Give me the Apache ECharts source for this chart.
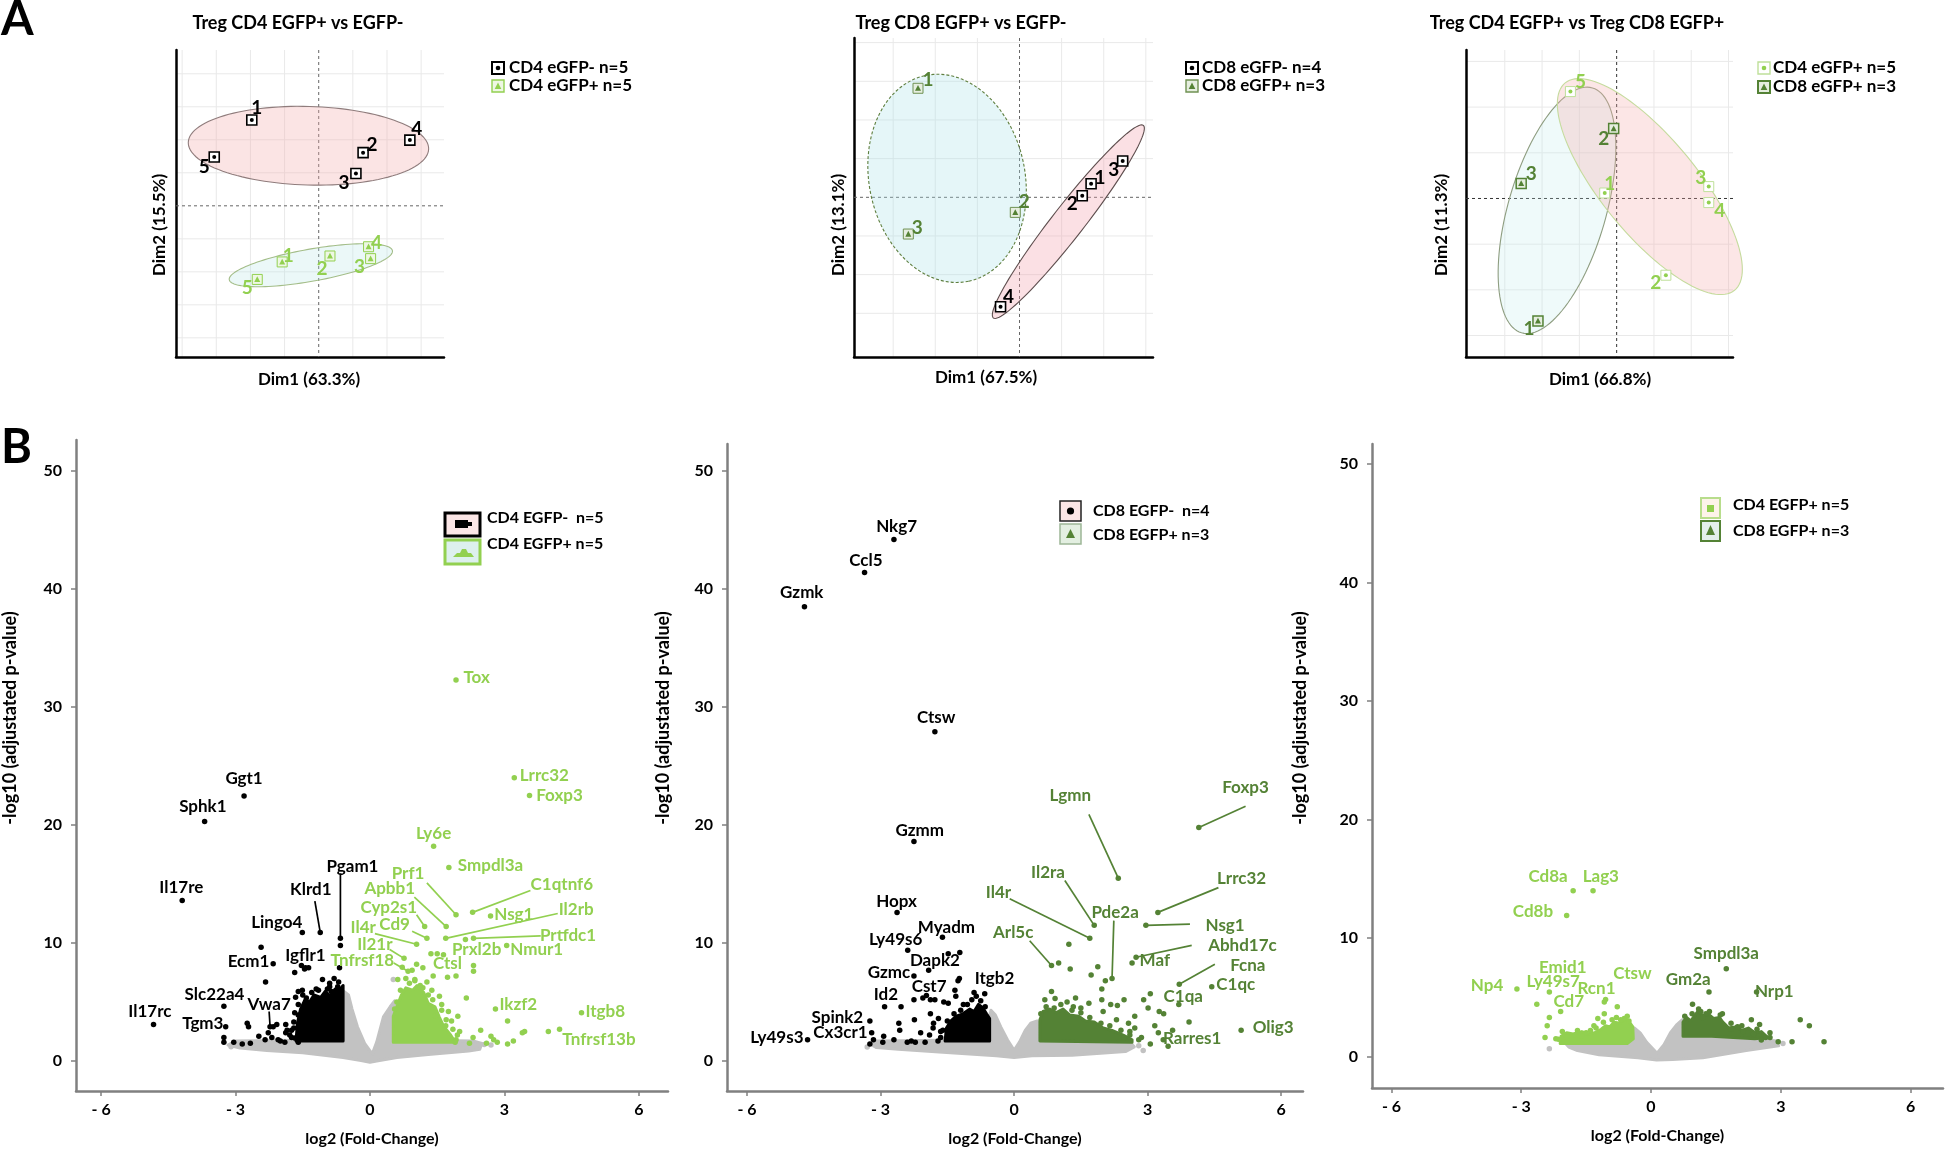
<!DOCTYPE html>
<html><head><meta charset="utf-8">
<script src="https://cdn.jsdelivr.net/npm/echarts@6.0.0/dist/echarts.min.js"></script>
<style>html,body{margin:0;padding:0;background:#fff}#c{width:1946px;height:1150px}</style>
</head><body><div id="c"></div>
<script>
// ================= DATA =================
// ---- Panel A : PCA scores  [sample id, Dim1, Dim2]
const A1_CD4_NEG = [[1,-1.96,2.60],[2,1.30,1.61],[3,1.09,0.98],[4,2.67,1.99],[5,-3.06,1.48]];
const A1_CD4_POS = [[1,-1.07,-1.70],[2,0.33,-1.52],[3,1.52,-1.60],[4,1.46,-1.24],[5,-1.80,-2.23]];
const A2_CD8_NEG = [[1,1.70,0.35],[2,1.49,0.04],[3,2.45,0.94],[4,-0.45,-2.83]];
const A2_CD8_POS = [[1,-2.41,2.82],[2,-0.10,-0.39],[3,-2.64,-0.95]];
const A3_CD4_POS = [[1,-0.32,0.12],[2,1.32,-1.68],[3,2.47,0.26],[4,2.47,-0.09],[5,-1.24,2.34]];
const A3_CD8_POS = [[1,-2.11,-2.68],[2,-0.08,1.53],[3,-2.56,0.33]];
// confidence ellipses: [centre Dim1, centre Dim2, axis-1 dDim1, dDim2, axis-2 dDim1, dDim2]
const A1_ELL_NEG = [-0.30,1.82, 3.52,-0.10, 0.03,1.19];
const A1_ELL_POS = [-0.23,-1.80, 2.39,0.44, -0.08,0.48];
const A2_ELL_POS = [-1.72,0.49, 0.515,-2.66, 1.81,0.42];
const A2_ELL_NEG = [1.16,-0.63, 1.78,2.49, 0.30,-0.25];
const A3_ELL_CD4 = [0.89,0.26, 2.27,-2.27, 1.00,0.66];
const A3_ELL_CD8 = [-1.60,-0.26, -0.95,-2.68, 1.26,-0.30];
// grid line positions of the PCA panels
const A1_GRID_X = [-4,-3,-2,-1,1,2,3], A1_GRID_Y = [-4,-3,-2,-1,1,2,3,4];
const A2_GRID_X = [-3,-2,-1,1,2,3],    A2_GRID_Y = [-3,-2,-1,1,2,3,4];
const A3_GRID_X = [-3,-2,-1,1,2,3],    A3_GRID_Y = [-3,-2,-1,1,2,3];

// ---- Panel B : volcano plots  [log2FC, -log10 padj]
const VOLC_X_TICKS = [-6,-3,0,3,6];
const VOLC_Y_TICKS = [0,10,20,30,40,50];

// B1  CD4 EGFP- vs CD4 EGFP+
const B1_GRAY = [[-3.17,1.36],[-3.0,1.7],[-2.0,1.75],[-1.2,1.8],[-0.62,2.2],[-0.6,4.5],[-0.58,5.9],[-0.48,5.6],[-0.4,4.4],[-0.28,2.9],[-0.12,1.5],[0.05,0.6],[0.15,1.6],[0.3,3.75],[0.45,4.6],[0.55,5.1],[0.6,3.5],[0.7,1.9],[1.6,1.75],[2.3,1.7],[2.5,1.5],[2.45,1.0],[2.2,0.85],[1.3,0.55],[0.6,0.3],[0.15,0.0],[0.0,-0.1],[-0.2,0.05],[-0.6,0.3],[-1.5,0.7],[-2.3,0.9],[-2.9,1.1]];
const B1_GRAY_PTS = [[2.55,1.4],[2.7,1.35],[-3.1,1.2],[0.52,6.9]];
const B1_DOWN_CORE = [[-1.65,1.7],[-1.62,3.2],[-1.55,4.4],[-1.45,5.2],[-1.35,5.0],[-1.25,5.6],[-1.1,5.4],[-1.0,5.9],[-0.88,5.5],[-0.78,6.1],[-0.68,6.0],[-0.6,6.4],[-0.6,1.7]];
const B1_UP_CORE = [[0.52,1.6],[0.52,3.8],[0.6,4.6],[0.7,5.6],[0.8,6.2],[0.95,6.0],[1.05,6.4],[1.2,5.8],[1.3,4.9],[1.45,4.6],[1.55,3.7],[1.65,2.9],[1.8,2.2],[1.9,1.6]];
const B1_DOWN_GENES = [['Ggt1',-2.81,22.46],['Sphk1',-3.69,20.3],['Il17re',-4.19,13.6],['Il17rc',-4.83,3.1],['Tgm3',-3.22,2.9],['Slc22a4',-3.26,4.65],['Vwa7',-2.23,2.9],['Ecm1',-2.16,8.24],['Lingo4',-1.51,10.9],['Igflr1',-1.44,7.9],['Klrd1',-1.11,10.9],['Pgam1',-0.66,10.4]];
const B1_DOWN_PTS = [[-3.26,2.0],[-3.26,1.6],[-3.04,1.6],[-2.85,1.45],[-2.74,3.2],[-2.71,2.9],[-2.67,1.5],[-2.48,2.1],[-2.34,1.8],[-2.27,2.4],[-2.16,2.9],[-2.08,3.1],[-2.19,2.0],[-1.88,3.1],[-1.9,1.6],[-1.79,2.2],[-1.68,1.95],[-1.57,2.1],[-1.88,2.4],[-1.66,5.4],[-1.6,5.9],[-1.51,6.0],[-1.42,5.35],[-1.46,4.6],[-1.31,4.95],[-1.25,4.0],[-1.14,5.15],[-1.06,6.9],[-1.05,4.5],[-0.95,6.1],[-0.86,5.9],[-0.75,5.5],[-0.72,6.3],[-0.68,7.9],[-1.68,7.5],[-1.46,7.8],[-1.53,8.1],[-1.37,7.9],[-2.33,6.7],[-2.43,9.65],[-2.0,1.7],[-1.6,1.6],[-1.75,2.6],[-1.55,2.8],[-1.5,3.4],[-1.6,3.9],[-1.35,3.2],[-0.66,9.8],[-0.8,7.0],[-0.9,6.6],[-1.2,6.1],[-1.0,5.4],
  [-1.85,2.6],[-1.7,2.8],[-1.7,3.3],[-1.68,4.1],[-1.6,4.8],[-1.5,5.6],[-1.3,5.8],[-1.15,6.0],[-0.9,6.3],[-0.7,6.7],[-2.05,1.8],[-1.75,2.0]];
const B1_UP_GENES = [['Tox',1.92,32.3],['Lrrc32',3.22,24.0],['Foxp3',3.56,22.5],['Ly6e',1.42,18.2],['Smpdl3a',1.76,16.4],['Prf1',1.92,12.4],['C1qtnf6',2.29,12.6],['Apbb1',1.70,11.4],['Cyp2s1',1.22,11.4],['Il2rb',1.69,10.4],['Nsg1',2.69,12.3],['Cd9',1.27,10.4],['Il4r',1.04,9.9],['Prtfdc1',2.31,10.4],['Prxl2b',2.13,10.3],['Nmur1',3.05,9.8],['Il21r',0.76,8.7],['Tnfrsf18',0.85,7.6],['Ctsl',1.92,7.2],['Ikzf2',2.80,4.4],['Itgb8',4.72,4.1],['Tnfrsf13b',4.23,2.7]];
const B1_UP_PTS = [[1.92,1.8],[2.22,1.5],[2.47,2.6],[2.7,2.1],[2.84,1.6],[3.07,1.45],[2.76,1.8],[3.07,3.4],[3.4,2.4],[3.45,2.5],[2.15,5.35],[1.96,3.8],[1.82,3.4],[1.69,3.0],[1.46,3.8],[1.41,7.2],[1.18,7.9],[1.04,8.2],[0.62,6.9],[1.36,9.1],[1.5,9.1],[1.64,9.0],[2.31,8.1],[2.31,7.6],[1.38,6.0],[1.18,6.2],[0.94,7.7],[0.72,7.95],[1.27,6.7],[1.73,7.1],[3.98,2.5],[1.6,4.8],[1.75,4.2],[1.55,5.5],[0.8,7.0],[1.0,6.9],[2.0,2.5],[2.3,2.0],[1.9,1.6],[2.6,1.5],[3.2,1.7],
  [0.6,5.0],[0.68,6.0],[0.88,6.6],[1.0,6.8],[1.12,6.4],[1.3,5.6],[1.4,5.2],[1.6,4.3],[1.7,3.5],[1.85,2.7],[1.95,2.2],[0.55,4.4]];

// B2  CD8 EGFP- vs CD8 EGFP+
const B2_GRAY = [[-3.2,1.36],[-3.1,1.7],[-2.0,1.75],[-1.2,1.8],[-0.56,2.0],[-0.55,3.8],[-0.52,4.3],[-0.42,3.9],[-0.3,2.9],[-0.15,1.8],[0.0,0.9],[0.12,1.6],[0.25,2.6],[0.37,3.2],[0.52,3.4],[0.6,2.0],[1.0,1.75],[2.0,1.7],[2.6,1.6],[2.7,1.2],[2.5,0.8],[1.3,0.5],[0.4,0.45],[0.0,0.3],[-0.4,0.45],[-1.6,0.75],[-2.6,1.0],[-3.1,1.15]];
const B2_GRAY_PTS = [[2.8,1.3],[2.9,0.9],[-3.3,1.2]];
const B2_DOWN_CORE = [[-1.55,1.7],[-1.52,2.8],[-1.42,3.4],[-1.3,3.8],[-1.15,4.0],[-1.0,4.4],[-0.9,4.2],[-0.8,4.8],[-0.7,4.5],[-0.62,4.0],[-0.55,3.6],[-0.55,1.7]];
const B2_UP_CORE = [[0.58,1.7],[0.58,3.5],[0.65,4.2],[0.8,4.4],[0.95,4.1],[1.1,4.4],[1.25,3.9],[1.45,3.8],[1.6,3.4],[1.8,3.3],[2.0,2.8],[2.2,2.6],[2.45,2.2],[2.65,1.8],[2.65,1.6]];
const B2_DOWN_GENES = [['Nkg7',-2.70,44.2],['Ccl5',-3.36,41.4],['Gzmk',-4.71,38.5],['Ctsw',-1.78,27.9],['Gzmm',-2.25,18.6],['Hopx',-2.63,12.6],['Myadm',-1.61,10.5],['Ly49s6',-2.39,9.4],['Dapk2',-1.92,7.7],['Gzmc',-2.25,7.2],['Cst7',-1.31,5.5],['Id2',-2.91,4.6],['Itgb2',-0.66,5.7],['Spink2',-3.24,3.4],['Cx3cr1',-3.2,2.4],['Ly49s3',-4.64,1.8]];
const B2_DOWN_PTS = [[-3.24,1.45],[-3.16,1.8],[-2.93,2.1],[-2.57,2.6],[-2.54,4.6],[-2.59,3.2],[-2.4,1.6],[-2.31,1.7],[-2.25,5.2],[-2.24,3.5],[-2.22,1.6],[-2.05,5.35],[-1.97,5.55],[-1.88,5.2],[-1.81,3.2],[-1.78,5.2],[-1.71,1.7],[-1.58,5.0],[-1.48,4.9],[-1.88,4.0],[-1.82,2.8],[-1.33,6.0],[-1.26,6.8],[-1.23,7.0],[-1.14,4.8],[-1.48,9.1],[-1.22,9.2],[-2.0,1.6],[-1.9,2.2],[-2.1,2.4],[-1.65,2.5],[-1.7,3.6],[-2.7,1.8],[-2.95,1.6],
  [-1.6,2.6],[-1.5,3.4],[-1.35,4.0],[-1.2,4.3],[-1.05,4.8],[-0.95,5.2],[-0.85,5.5],[-0.75,5.1],[-0.65,4.6],[-1.65,2.0],[-0.9,5.8]];
const B2_UP_GENES = [['Foxp3',4.15,19.8],['Lgmn',2.34,15.5],['Lrrc32',3.23,12.6],['Il2ra',1.80,11.5],['Pde2a',2.20,7.0],['Il4r',1.70,10.4],['Nsg1',2.96,11.5],['Arl5c',0.84,8.1],['Abhd17c',2.74,8.8],['Maf',2.65,8.3],['Fcna',3.71,6.5],['C1qc',4.44,6.3],['C1qa',3.70,4.8],['Rarres1',3.24,2.4],['Olig3',5.10,2.6]];
const B2_UP_PTS = [[1.23,9.9],[1.26,7.8],[1.88,8.0],[1.73,7.3],[1.97,6.1],[2.05,6.8],[0.84,5.9],[0.69,5.2],[0.92,5.3],[1.19,5.0],[1.38,5.35],[1.33,4.6],[1.68,4.9],[1.97,5.2],[2.17,4.8],[2.32,4.7],[2.47,5.2],[2.91,5.2],[3.06,5.7],[3.01,4.5],[3.26,4.2],[3.36,4.0],[3.93,3.3],[3.16,3.0],[2.71,3.8],[2.71,2.8],[2.47,2.0],[2.86,2.0],[3.06,1.45],[3.46,1.25],[3.56,2.6],[2.57,3.2],[1.0,8.3],[2.0,4.2],[2.3,3.5],[1.5,4.5],[2.6,2.5],[3.35,1.8],
  [0.6,4.0],[0.72,4.6],[0.9,4.5],[1.05,4.8],[1.3,4.3],[1.5,4.1],[1.7,3.7],[1.95,3.2],[2.15,3.0],[2.4,2.6],[2.6,2.2],[2.8,1.8]];

// B3  CD4 EGFP+ vs CD8 EGFP+
const B3_GRAY = [[-1.9,0.8],[-2.0,1.2],[-1.5,1.3],[-0.6,1.5],[-0.42,2.0],[-0.38,2.4],[-0.25,2.0],[-0.1,1.2],[0.14,0.27],[0.3,1.0],[0.45,2.0],[0.6,2.7],[0.72,3.1],[0.8,1.8],[1.6,1.6],[2.4,1.5],[2.9,1.3],[2.95,0.9],[2.2,0.5],[1.2,-0.1],[0.5,-0.25],[0.13,-0.3],[-0.3,-0.1],[-1.2,0.15],[-1.7,0.5]];
const B3_GRAY_PTS = [[-2.35,0.65],[3.05,1.1]];
const B3_LEFT_CORE = [[-2.1,1.1],[-2.08,1.7],[-1.95,2.0],[-1.8,1.9],[-1.6,2.1],[-1.45,1.9],[-1.3,2.0],[-1.15,2.3],[-1.05,2.6],[-0.95,2.5],[-0.85,2.9],[-0.72,2.8],[-0.6,3.2],[-0.5,2.9],[-0.42,2.5],[-0.41,1.5],[-0.55,1.1]];
const B3_RIGHT_CORE = [[0.74,1.7],[0.74,2.9],[0.82,3.3],[0.92,3.0],[1.0,3.4],[1.1,3.9],[1.2,3.4],[1.32,3.6],[1.45,3.2],[1.58,3.3],[1.66,2.9],[1.8,2.4],[1.95,2.5],[2.1,2.2],[2.25,2.4],[2.4,2.0],[2.55,2.1],[2.7,1.6],[2.4,1.5],[1.9,1.6],[1.4,1.7]];
const B3_LEFT_GENES = [['Cd8a',-1.80,14.0],['Lag3',-1.34,14.0],['Cd8b',-1.95,11.9],['Np4',-3.10,5.7],['Emid1',-2.35,5.45],['Ly49s7',-2.64,4.4],['Rcn1',-1.08,4.6],['Cd7',-2.09,3.8],['Ctsw',-0.78,4.2]];
const B3_LEFT_PTS = [[-2.35,3.3],[-2.4,2.6],[-2.14,1.45],[-1.95,1.65],[-1.08,3.6],[-1.23,3.2],[-1.32,2.6],[-1.27,2.4],[-0.51,3.0],[-0.8,3.3],[-1.05,4.8],[-1.75,1.8],[-1.6,1.7],[-2.45,1.6],[-1.5,2.0],[-0.62,3.2],
  [-2.2,1.5],[-2.05,2.1],[-1.7,2.2],[-1.4,2.2],[-1.1,2.9],[-0.9,3.1],[-0.7,3.1],[-0.55,3.4]];
const B3_RIGHT_GENES = [['Smpdl3a',1.74,7.4],['Gm2a',1.34,5.45],['Nrp1',2.44,5.45]];
const B3_RIGHT_PTS = [[0.96,4.4],[1.27,3.6],[1.65,3.6],[2.32,3.1],[2.51,2.7],[3.45,3.1],[3.66,2.6],[4.0,1.25],[3.26,1.25],[2.94,1.25],[2.75,2.0],[2.65,1.6],[2.37,1.9],[2.13,2.1],[1.15,3.8],[1.2,3.3],[2.55,1.4],[2.0,2.5],[1.85,2.3],
  [0.78,3.4],[0.95,3.6],[1.1,4.0],[1.35,3.8],[1.6,3.5],[1.85,2.8],[2.1,2.6],[2.45,2.3],[2.75,1.6]];

// ================= LAYOUT (label placement, not data) =================
const A1_NEG_LBL = {1:[5,-12],2:[9,-8],3:[-12,9],4:[7,-11],5:[-10,10]};
const A1_POS_LBL = {1:[6,-6],2:[-8,13],3:[-11,8],4:[8,-4],5:[-10,8]};
const A2_NEG_LBL = {1:[9,-6],2:[-10,8],3:[-9,9],4:[8,-10]};
const A2_POS_LBL = {1:[10,-8],2:[9,-11],3:[9,-6]};
const A3_CD4_LBL = {1:[5,-9],2:[-10,8],3:[-8,-9],4:[11,8],5:[10,-10]};
const A3_CD8_LBL = {1:[-9,8],2:[-10,10],3:[10,-10]};

const B1_LABEL_AT = {Ggt1:[-2.81,23.9],Sphk1:[-3.73,21.6],Il17re:[-4.21,14.7],Il17rc:[-4.91,4.2],Tgm3:[-3.73,3.2],Slc22a4:[-3.47,5.6],Vwa7:[-2.25,4.8],Ecm1:[-2.71,8.4],Lingo4:[-2.08,11.7],Igflr1:[-1.44,8.9],Klrd1:[-1.32,14.5],Pgam1:[-0.39,16.5],
  Tox:[2.38,32.5],Lrrc32:[3.89,24.2],Foxp3:[4.23,22.5],Ly6e:[1.42,19.3],Smpdl3a:[2.69,16.6],Prf1:[0.85,15.9],C1qtnf6:[4.28,15.0],Apbb1:[0.44,14.6],Cyp2s1:[0.42,13.0],Il2rb:[4.6,12.8],Nsg1:[3.21,12.4],Cd9:[0.55,11.6],Il4r:[-0.15,11.3],Prtfdc1:[4.42,10.6],Prxl2b:[2.38,9.45],Nmur1:[3.72,9.45],Il21r:[0.11,9.9],Tnfrsf18:[-0.17,8.55],Ctsl:[1.73,8.3],Ikzf2:[3.31,4.8],Itgb8:[5.25,4.2],Tnfrsf13b:[5.11,1.8]};
const B1_LEADER = {Vwa7:[-2.25,4.2],Klrd1:[-1.23,13.55],Pgam1:[-0.66,15.9],Prf1:[1.27,15.1],C1qtnf6:[3.58,14.45],Apbb1:[0.99,13.9],Cyp2s1:[1.04,12.4],Il2rb:[4.19,12.5],Cd9:[0.94,11.0],Il4r:[0.11,10.8],Prtfdc1:[3.81,10.6],Il21r:[0.44,9.45],Tnfrsf18:[0.53,8.3]};
const B2_LABEL_AT = {Nkg7:[-2.64,45.3],Ccl5:[-3.33,42.4],Gzmk:[-4.77,39.7],Ctsw:[-1.75,29.1],Gzmm:[-2.12,19.5],Hopx:[-2.64,13.55],Myadm:[-1.52,11.3],Ly49s6:[-2.66,10.3],Dapk2:[-1.78,8.55],Gzmc:[-2.81,7.5],Cst7:[-1.91,6.3],Id2:[-2.88,5.6],Itgb2:[-0.44,7.0],Spink2:[-3.97,3.7],Cx3cr1:[-3.9,2.4],Ly49s3:[-5.33,2.0],
  Foxp3:[5.2,23.2],Lgmn:[1.26,22.5],Lrrc32:[5.11,15.5],Il2ra:[0.76,16.0],Pde2a:[2.27,12.6],Il4r:[-0.35,14.3],Nsg1:[4.74,11.5],Arl5c:[-0.02,10.9],Abhd17c:[5.13,9.8],Maf:[3.16,8.5],Fcna:[5.25,8.1],C1qc:[4.98,6.5],C1qa:[3.80,5.5],Rarres1:[4.0,1.9],Olig3:[5.82,2.8]};
const B2_LEADER = {Foxp3:[5.2,21.6],Lgmn:[1.68,20.9],Lrrc32:[4.59,14.7],Il2ra:[1.14,15.3],Pde2a:[2.24,11.9],Il4r:[-0.1,13.75],Nsg1:[3.95,11.6],Arl5c:[0.35,10.2],Abhd17c:[3.99,9.8],Fcna:[4.51,8.2]};
const B3_LABEL_AT = {Cd8a:[-2.38,15.2],Lag3:[-1.16,15.2],Cd8b:[-2.73,12.2],Np4:[-3.79,6.0],Emid1:[-2.04,7.5],Ly49s7:[-2.26,6.3],Rcn1:[-1.26,5.7],Cd7:[-1.90,4.6],Ctsw:[-0.43,7.0],
  Smpdl3a:[1.74,8.7],Gm2a:[0.86,6.5],Nrp1:[2.85,5.5]};
const B3_LEADER = {};

// ================= STYLE =================
const F = 'Lato, "Open Sans", "DejaVu Sans", sans-serif';
const LG = '#92D050', DG = '#548235', GREY = '#c2c2c2';
const ST_NEG  = {box:10, fill:'#ffffff', stroke:'#000000', lw:1.6, inner:'dot', color:'#000', r:2, label:'#000'};
const ST_A1POS= {box:10, fill:'#EEF7E4', stroke:LG, lw:1, inner:'tri', color:LG, label:LG};
const ST_DGPOS= {box:10, fill:'#E6EEE0', stroke:'#6F9152', lw:1, inner:'tri', color:DG, label:DG};
const ST_A3CD4= {box:10, fill:'#ffffff', stroke:'#BFE09A', lw:1, inner:'dot', color:LG, r:2, label:LG};

function txtStyle(text, font, fill, align, valign){
  return {text:text, font:font, fill:fill, align:align||'center', verticalAlign:valign||'middle', textAlign:align||'center', textVerticalAlign:valign||'middle'};
}

function ellipseSeries(g, e, fill, stroke, dash, z){
  return {type:'custom', xAxisIndex:g, yAxisIndex:g, z:z, silent:true, clip:false, data:[e],
    renderItem:function(p, api){
      const pts=[];
      for(let i=0;i<=120;i++){const t=i/120*2*Math.PI;
        pts.push(api.coord([e[0]+e[2]*Math.cos(t)+e[4]*Math.sin(t), e[1]+e[3]*Math.cos(t)+e[5]*Math.sin(t)]));}
      return {type:'polygon', shape:{points:pts}, style:{fill:fill, stroke:stroke, lineWidth:1.1, lineDash:dash||null}};
    }};
}
function gridLinesSeries(g, xs, ys, color, dash, z){
  const data = xs.map(v=>[v,0,0]).concat(ys.map(v=>[0,v,1]));
  return {type:'custom', xAxisIndex:g, yAxisIndex:g, z:z, silent:true, clip:false, data:data,
    renderItem:function(p, api){
      const cs=p.coordSys; const c=api.coord([api.value(0),api.value(1)]);
      const vert = api.value(2)===0;
      return {type:'line', shape: vert?{x1:c[0],y1:cs.y,x2:c[0],y2:cs.y+cs.height}:{x1:cs.x,y1:c[1],x2:cs.x+cs.width,y2:c[1]},
        style:{stroke:color, lineWidth:1, lineDash:dash||null}};
    }};
}
function pcaSeries(g, pts, st, offs){
  return {type:'custom', xAxisIndex:g, yAxisIndex:g, z:6, clip:false, silent:true,
    data: pts.map(p=>[p[1],p[2],p[0]]),
    renderItem:function(p, api){
      const c=api.coord([api.value(0),api.value(1)]); const id=api.value(2); const o=offs[id]||[8,-8];
      const s=st.box;
      const ch=[{type:'rect', shape:{x:c[0]-s/2,y:c[1]-s/2,width:s,height:s}, style:{fill:st.fill, stroke:st.stroke, lineWidth:st.lw}}];
      if(st.inner==='dot') ch.push({type:'circle', shape:{cx:c[0],cy:c[1],r:st.r}, style:{fill:st.color}});
      else ch.push({type:'polygon', shape:{points:[[c[0],c[1]-3.2],[c[0]+3,c[1]+2.6],[c[0]-3,c[1]+2.6]]}, style:{fill:st.color}});
      ch.push({type:'text', x:c[0]+o[0], y:c[1]+o[1], style:txtStyle(String(id), 'bold 19px '+F, st.label)});
      return {type:'group', children:ch};
    }};
}
function polySeries(g, verts, color, z){
  return {type:'custom', xAxisIndex:g, yAxisIndex:g, z:z, silent:true, clip:false, data:[verts[0]],
    renderItem:function(p, api){
      return {type:'polygon', shape:{points:verts.map(v=>api.coord(v))}, style:{fill:color, stroke:color, lineWidth:3, lineJoin:'round'}};
    }};
}
function dotSeries(g, pts, color, z){
  return {type:'scatter', xAxisIndex:g, yAxisIndex:g, z:z, silent:true, symbol:'circle', symbolSize:5.5,
    itemStyle:{color:color, opacity:1}, data:pts};
}
function labelSeries(g, genes, at, color){
  return {type:'custom', xAxisIndex:g, yAxisIndex:g, z:12, silent:true, clip:false,
    data: genes.map(d=>[at[d[0]][0], at[d[0]][1]]),
    renderItem:function(p, api){
      const c=api.coord([api.value(0),api.value(1)]);
      return {type:'text', x:c[0], y:c[1], style:txtStyle(genes[p.dataIndex][0], 'bold 17px '+F, color)};
    }};
}
function leaderSeries(g, genes, from, color){
  const items = genes.filter(d=>from[d[0]]).map(d=>[from[d[0]][0], from[d[0]][1], d[1], d[2]]);
  return {type:'custom', xAxisIndex:g, yAxisIndex:g, z:11, silent:true, clip:false, data:items,
    renderItem:function(p, api){
      const a=api.coord([api.value(0),api.value(1)]), b=api.coord([api.value(2),api.value(3)]);
      return {type:'line', shape:{x1:a[0],y1:a[1],x2:b[0],y2:b[1]}, style:{stroke:color, lineWidth:1.7}};
    }};
}
function volcano(g, gray, grayPts, sets){
  const s=[polySeries(g, gray, GREY, 1)];
  if(grayPts) s.push(dotSeries(g, grayPts, GREY, 1));
  sets.forEach(k=>{
    s.push(polySeries(g, k.core, k.color, 2));
    s.push(dotSeries(g, k.pts.concat(k.genes.map(d=>[d[1],d[2]])), k.color, 3));
    s.push(leaderSeries(g, k.genes, k.leader, k.color));
    s.push(labelSeries(g, k.genes, k.at, k.color));
  });
  return s;
}

// ================= AXES =================
function pcaX(g,min,max){return {gridIndex:g,type:'value',min:min,max:max,axisLine:{show:true,onZero:false,lineStyle:{color:'#000',width:2.5}},axisTick:{show:false},axisLabel:{show:false},splitLine:{show:false}};}
function pcaY(g,min,max){return {gridIndex:g,type:'value',min:min,max:max,axisLine:{show:true,onZero:false,lineStyle:{color:'#000',width:2.5}},axisTick:{show:false},axisLabel:{show:false},splitLine:{show:false}};}
function volX(g,min,max){return {gridIndex:g,type:'value',min:min,max:max,
  axisLine:{show:true,onZero:false,lineStyle:{color:'#808080',width:2.5}},
  axisTick:{show:true,customValues:VOLC_X_TICKS,length:5,lineStyle:{color:'#808080',width:1.5}},
  axisLabel:{show:true,customValues:VOLC_X_TICKS,margin:11,color:'#000',fontFamily:F,fontWeight:'bold',fontSize:16,
    formatter:function(v){return v<0?('- '+(-v)):String(v);}},
  splitLine:{show:false},name:'log2 (Fold-Change)',nameLocation:'middle',nameGap:40,
  nameTextStyle:{color:'#000',fontFamily:F,fontWeight:'bold',fontSize:16}};}
function volY(g,min,max){return {gridIndex:g,type:'value',min:min,max:max,
  axisLine:{show:true,onZero:false,lineStyle:{color:'#808080',width:2.5}},
  axisTick:{show:true,customValues:VOLC_Y_TICKS,length:5,lineStyle:{color:'#808080',width:1.5}},
  axisLabel:{show:true,customValues:VOLC_Y_TICKS,margin:14,color:'#000',fontFamily:F,fontWeight:'bold',fontSize:16},
  splitLine:{show:false}};}

// ================= GRAPHIC (titles, legends) =================
const G=[];
function T(x,y,text,size,color,align,rot){G.push({type:'text',x:x,y:y,rotation:rot||0,silent:true,z:100,style:txtStyle(text,'bold '+size+'px '+F,color||'#000',align||'center','middle')});}
T(1,20,'A',47,'#000','left'); T(1,448,'B',47,'#000','left');
T(298,23,'Treg CD4 EGFP+ vs EGFP-',18); T(961,23,'Treg CD8 EGFP+ vs EGFP-',18); T(1577,23,'Treg CD4 EGFP+ vs Treg CD8 EGFP+',18);
T(309,380,'Dim1 (63.3%)',17); T(986,378,'Dim1 (67.5%)',17); T(1600,380,'Dim1 (66.8%)',17);
T(160,225,'Dim2 (15.5%)',17,'#000','center',Math.PI/2); T(839,225,'Dim2 (13.1%)',17,'#000','center',Math.PI/2); T(1442,225,'Dim2 (11.3%)',17,'#000','center',Math.PI/2);
T(10,718,'-log10 (adjustated p-value)',18,'#000','center',Math.PI/2);
T(663,718,'-log10 (adjustated p-value)',18,'#000','center',Math.PI/2);
T(1300,718,'-log10 (adjustated p-value)',18,'#000','center',Math.PI/2);
function pcaLegend(cx,cy,st,text,tx){
  const s=12;
  G.push({type:'rect',shape:{x:cx-s/2,y:cy-s/2,width:s,height:s},style:{fill:st.fill,stroke:st.stroke,lineWidth:st.lw+0.4},z:100,silent:true});
  if(st.inner==='dot') G.push({type:'circle',shape:{cx:cx,cy:cy,r:2.3},style:{fill:st.color},z:101,silent:true});
  else G.push({type:'polygon',shape:{points:[[cx,cy-3.5],[cx+3.3,cy+3],[cx-3.3,cy+3]]},style:{fill:st.color},z:101,silent:true});
  T(tx,cy,text,17,'#000','left');
}
pcaLegend(498,68,ST_NEG,'CD4 eGFP- n=5',509); pcaLegend(498,86,ST_A1POS,'CD4 eGFP+ n=5',509);
pcaLegend(1192,68,ST_NEG,'CD8 eGFP- n=4',1202); pcaLegend(1192,86,ST_DGPOS,'CD8 eGFP+ n=3',1202);
pcaLegend(1764,68,ST_A3CD4,'CD4 eGFP+ n=5',1773); pcaLegend(1764,87,Object.assign({},ST_DGPOS,{lw:1.6,stroke:DG}),'CD8 eGFP+ n=3',1773);
function box(x,y,w,h,fill,stroke,lw){G.push({type:'rect',shape:{x:x,y:y,width:w,height:h},style:{fill:fill,stroke:stroke,lineWidth:lw},z:100,silent:true});}
// B1 legend
box(445,513,35,23,'#FBE6E6','#000',3); G.push({type:'rect',shape:{x:455,y:520,width:13,height:8},style:{fill:'#000'},z:101,silent:true});
G.push({type:'rect',shape:{x:468,y:522,width:4,height:4},style:{fill:'#000'},z:101,silent:true});
box(445,540,35,24,'#DDF0EE',LG,3);
G.push({type:'polygon',shape:{points:[[453,557],[457,553],[460,553],[462,549],[466,549],[468,553],[471,553],[474,557]]},style:{fill:LG},z:101,silent:true});
T(487,518,'CD4 EGFP-  n=5',16,'#000','left'); T(487,544,'CD4 EGFP+ n=5',16,'#000','left');
// B2 legend
box(1060,501,21,20,'#FBE6E6','#222',1.5); G.push({type:'circle',shape:{cx:1070.5,cy:511,r:3.6},style:{fill:'#000'},z:101,silent:true});
box(1060,524,21,20,'#E3EFE1','#9DB797',1.5);
G.push({type:'polygon',shape:{points:[[1070.5,529],[1075,538],[1066,538]]},style:{fill:DG},z:101,silent:true});
T(1093,511,'CD8 EGFP-  n=4',16,'#000','left'); T(1093,535,'CD8 EGFP+ n=3',16,'#000','left');
// B3 legend
box(1701,498,19,20,'#FDF3EA','#B8DD8C',2); G.push({type:'rect',shape:{x:1707,y:505,width:7,height:7},style:{fill:LG},z:101,silent:true});
box(1701,521,19,20,'#E3EFEB',DG,2);
G.push({type:'polygon',shape:{points:[[1710.5,525],[1715,535],[1706,535]]},style:{fill:DG},z:101,silent:true});
T(1733,505,'CD4 EGFP+ n=5',16,'#000','left'); T(1733,531,'CD8 EGFP+ n=3',16,'#000','left');

// ================= SERIES =================
const series=[];
// A1
series.push(gridLinesSeries(0,A1_GRID_X,A1_GRID_Y,'#e9e9e9',null,0));
series.push(gridLinesSeries(0,[0],[0],'#666',[3,3],1));
series.push(ellipseSeries(0,A1_ELL_NEG,'rgba(244,172,172,0.32)','#8f7c7c',null,2));
series.push(ellipseSeries(0,A1_ELL_POS,'rgba(176,228,228,0.25)','#a3bd88',null,2));
series.push(pcaSeries(0,A1_CD4_NEG,ST_NEG,A1_NEG_LBL));
series.push(pcaSeries(0,A1_CD4_POS,ST_A1POS,A1_POS_LBL));
// A2
series.push(gridLinesSeries(1,A2_GRID_X,A2_GRID_Y,'#e9e9e9',null,0));
series.push(gridLinesSeries(1,[0],[0],'#666',[3,3],1));
series.push(ellipseSeries(1,A2_ELL_POS,'rgba(170,224,232,0.30)','#5f7f3f',[3,2],2));
series.push(ellipseSeries(1,A2_ELL_NEG,'rgba(244,160,170,0.32)','#5d4d4d',null,2));
series.push(pcaSeries(1,A2_CD8_NEG,ST_NEG,A2_NEG_LBL));
series.push(pcaSeries(1,A2_CD8_POS,ST_DGPOS,A2_POS_LBL));
// A3
series.push(gridLinesSeries(2,A3_GRID_X,A3_GRID_Y,'#e9e9e9',null,0));
series.push(gridLinesSeries(2,[0],[0],'#333',[3,3],1));
series.push(ellipseSeries(2,A3_ELL_CD8,'rgba(190,236,236,0.25)','#8e9d80',null,2));
series.push(ellipseSeries(2,A3_ELL_CD4,'rgba(244,172,172,0.30)','#c5db9d',null,2));
series.push(pcaSeries(2,A3_CD4_POS,ST_A3CD4,A3_CD4_LBL));
series.push(pcaSeries(2,A3_CD8_POS,Object.assign({},ST_DGPOS,{lw:1.5,stroke:DG}),A3_CD8_LBL));
// B1-B3
series.push.apply(series, volcano(3,B1_GRAY,B1_GRAY_PTS,[
  {core:B1_DOWN_CORE,pts:B1_DOWN_PTS,genes:B1_DOWN_GENES,at:B1_LABEL_AT,leader:B1_LEADER,color:'#000'},
  {core:B1_UP_CORE,pts:B1_UP_PTS,genes:B1_UP_GENES,at:B1_LABEL_AT,leader:B1_LEADER,color:LG}]));
series.push.apply(series, volcano(4,B2_GRAY,B2_GRAY_PTS,[
  {core:B2_DOWN_CORE,pts:B2_DOWN_PTS,genes:B2_DOWN_GENES,at:B2_LABEL_AT,leader:B2_LEADER,color:'#000'},
  {core:B2_UP_CORE,pts:B2_UP_PTS,genes:B2_UP_GENES,at:B2_LABEL_AT,leader:B2_LEADER,color:DG}]));
series.push.apply(series, volcano(5,B3_GRAY,B3_GRAY_PTS,[
  {core:B3_LEFT_CORE,pts:B3_LEFT_PTS,genes:B3_LEFT_GENES,at:B3_LABEL_AT,leader:B3_LEADER,color:LG},
  {core:B3_RIGHT_CORE,pts:B3_RIGHT_PTS,genes:B3_RIGHT_GENES,at:B3_LABEL_AT,leader:B3_LEADER,color:DG}]));

const option={
  animation:false, backgroundColor:'#ffffff',
  grid:[
    {left:176,top:50,width:268,height:307,containLabel:false,outerBoundsMode:'none'},
    {left:854,top:38,width:299,height:319,containLabel:false,outerBoundsMode:'none'},
    {left:1466,top:50,width:267,height:307,containLabel:false,outerBoundsMode:'none'},
    {left:76,top:440,width:592,height:651,containLabel:false,outerBoundsMode:'none'},
    {left:727,top:444,width:576,height:647,containLabel:false,outerBoundsMode:'none'},
    {left:1372,top:444,width:571,height:644,containLabel:false,outerBoundsMode:'none'}],
  xAxis:[pcaX(0,-4.18,3.67),pcaX(1,-3.93,3.17),pcaX(2,-4.04,3.12),volX(3,-6.56,6.65),volX(4,-6.45,6.49),volX(5,-6.45,6.75)],
  yAxis:[pcaY(0,-4.58,4.72),pcaY(1,-4.13,4.12),pcaY(2,-3.47,3.25),volY(3,-2.54,52.63),volY(4,-2.54,52.3),volY(5,-2.66,51.7)],
  graphic:G,
  series:series
};
const chart=echarts.init(document.getElementById('c'),null,{renderer:'canvas',width:1946,height:1150});
chart.setOption(option);
</script></body></html>
